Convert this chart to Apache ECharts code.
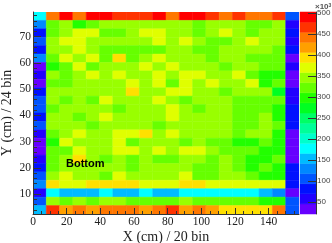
<!DOCTYPE html>
<html><head><meta charset="utf-8">
<style>html,body{margin:0;padding:0;background:#fff}#c{width:332px;height:243px}</style>
<script src="https://cdn.jsdelivr.net/npm/echarts@6/dist/echarts.min.js"></script>
</head><body><div id="c"></div>
<script>
const xMajorTicks=[0,20,40,60,80,100,120,140];
const xMinorTicks=[5,10,15,25,30,35,45,50,55,65,70,75,85,90,95,105,110,115,125,130,135,145,150,155];
const yMajorTicks=[10,20,30,40,50,60,70];
const yMinorTicks=[4,6,8,12,14,16,18,22,24,26,28,32,34,36,38,42,44,46,48,52,54,56,58,62,64,66,68,72,74,76,78];
const zTicks=[50,100,150,200,250,300,350,400,450,500];
const xRange=[0,158], yRange=[2.4,79.4], zRange=[22,502];
const xBins=20, yBins=24;
const palette=['#6600ff','#2200ff','#0011ff','#0055ff','#0088ff','#00bbff','#00ffff','#00ffcc','#00ff99','#00ff66','#00ff22','#22ff00','#66ff00','#99ff00','#e0ff00','#ffe000','#ffa000','#ff7700','#ff3300','#ff0000'];
// top row first
const cellValues=[
[178,442,490,442,490,490,466,466,466,490,442,490,490,466,442,466,442,442,466,106],
[130,322,346,298,322,346,346,346,346,346,346,346,322,346,346,346,322,322,346,58],
[82,322,346,370,370,322,322,346,370,370,346,346,322,346,370,346,322,346,346,82],
[106,346,370,370,346,346,346,346,346,370,346,370,346,322,322,346,370,346,346,58],
[82,346,346,370,346,322,322,322,322,322,346,346,322,322,346,346,346,346,322,82],
[130,322,370,346,370,322,394,322,346,370,346,346,346,322,346,346,322,322,322,34],
[34,298,322,370,322,346,346,346,370,346,370,346,346,346,322,346,346,322,322,58],
[58,346,322,346,370,346,370,346,346,370,346,370,370,346,346,370,322,298,298,34],
[34,322,322,346,346,346,346,370,346,370,322,370,346,370,346,346,370,298,322,34],
[82,346,346,346,346,346,346,394,346,346,370,370,346,346,322,346,346,346,274,58],
[106,346,322,346,322,370,346,346,346,370,346,322,346,346,346,322,322,322,322,58],
[106,322,346,346,346,346,322,346,346,346,370,346,322,346,346,322,322,322,298,82],
[82,346,346,322,346,370,346,346,346,346,370,346,346,346,346,322,322,346,298,82],
[106,346,346,346,322,346,346,346,346,322,346,346,346,346,346,322,322,346,322,82],
[58,322,346,370,346,346,370,370,394,346,370,346,346,346,346,322,346,346,298,34],
[34,298,370,346,346,346,370,322,346,346,346,322,346,322,322,298,298,322,298,34],
[34,322,322,370,346,346,370,370,346,370,346,370,370,346,322,322,322,298,298,34],
[58,322,346,394,346,322,346,322,346,322,322,346,346,322,346,322,298,298,322,34],
[82,322,346,346,346,346,346,322,346,346,346,346,322,322,346,322,298,322,298,82],
[106,346,370,346,346,322,370,346,346,346,346,370,322,322,346,346,322,298,298,82],
[130,394,370,370,394,394,394,394,370,370,370,394,394,370,370,370,370,370,370,82],
[58,178,154,154,154,178,154,154,178,154,154,178,178,178,178,178,178,154,130,34],
[106,346,322,346,322,346,346,322,322,322,322,346,322,322,322,322,322,298,298,106],
[154,466,418,442,418,442,442,442,418,442,466,418,442,418,394,394,394,394,442,106]
];
const colorbarValues=palette.map((_,i)=>zRange[0]+(i+0.5)*(zRange[1]-zRange[0])/palette.length);
const colorOf=v=>palette[Math.min(palette.length-1,Math.max(0,Math.floor((v-zRange[0])/(zRange[1]-zRange[0])*palette.length)))];
const dx=(xRange[1]-xRange[0])/xBins, dy=(yRange[1]-yRange[0])/yBins;
const cells=[];
cellValues.forEach((row,r)=>row.forEach((v,c)=>cells.push([c,yBins-1-r,v])));
const serif='"Liberation Serif"', sans='"Liberation Sans"';
const line={lineStyle:{color:'#333',width:1}};
const chart=echarts.init(document.getElementById('c'),null,{renderer:'canvas'});
chart.setOption({
 animation:false,
 grid:[{left:33,top:12,width:266,height:202,outerBoundsMode:'none'},{left:300,top:12,width:16,height:202,outerBoundsMode:'none'}],
 xAxis:[
  {gridIndex:0,type:'value',min:xRange[0],max:xRange[1],z:5,
   name:'X (cm) / 20 bin',nameLocation:'middle',nameGap:16,nameMoveOverlap:false,nameTextStyle:{fontFamily:serif,fontSize:14,color:'#222'},
   axisLine:{show:true,...line,onZero:false},splitLine:{show:false},
   axisTick:{show:true,inside:true,length:6,customValues:xMajorTicks,...line},
   axisLabel:{show:true,customValues:xMajorTicks,fontFamily:serif,fontSize:11.5,color:'#222',margin:2}},
  {gridIndex:0,type:'value',min:xRange[0],max:xRange[1],z:5,position:'bottom',
   axisLine:{show:false},splitLine:{show:false},
   axisTick:{show:true,inside:true,length:3,customValues:xMinorTicks,...line},axisLabel:{show:false}},
  {gridIndex:1,type:'value',min:0,max:1,show:false}
 ],
 yAxis:[
  {gridIndex:0,type:'value',min:yRange[0],max:yRange[1],z:5,
   name:'Y (cm) / 24 bin',nameLocation:'middle',nameGap:19,nameMoveOverlap:false,nameTextStyle:{fontFamily:serif,fontSize:14,color:'#222'},
   axisLine:{show:true,...line,onZero:false},splitLine:{show:false},
   axisTick:{show:true,inside:true,length:8,customValues:yMajorTicks,...line},
   axisLabel:{show:true,customValues:yMajorTicks,fontFamily:serif,fontSize:11.5,color:'#222',margin:2}},
  {gridIndex:0,type:'value',min:yRange[0],max:yRange[1],z:5,position:'left',
   axisLine:{show:false},splitLine:{show:false},
   axisTick:{show:true,inside:true,length:4,customValues:yMinorTicks,...line},axisLabel:{show:false}},
  {gridIndex:1,type:'value',min:zRange[0],max:zRange[1],z:5,position:'right',
   axisLine:{show:true,...line,onZero:false},splitLine:{show:false},
   axisTick:{show:true,inside:true,length:8,customValues:zTicks,...line},
   axisLabel:{show:true,customValues:zTicks,fontFamily:sans,fontSize:8,color:'#444',margin:1}}
 ],
 series:[
  {type:'custom',xAxisIndex:0,yAxisIndex:0,z:1,clip:true,silent:true,data:cells,
   encode:{x:0,y:1},
   renderItem:(p,api)=>{
    const c=api.value(0),r=api.value(1),v=api.value(2);
    const a=api.coord([xRange[0]+c*dx,yRange[0]+r*dy]),b=api.coord([xRange[0]+(c+1)*dx,yRange[0]+(r+1)*dy]);
    return {type:'rect',shape:{x:a[0],y:b[1],width:b[0]-a[0],height:a[1]-b[1]},style:{fill:colorOf(v),stroke:colorOf(v),lineWidth:0.5}};
   }},
  {type:'custom',xAxisIndex:2,yAxisIndex:2,z:1,silent:true,data:colorbarValues.map(v=>[0,v]),
   encode:{x:0,y:1},
   renderItem:(p,api)=>{
    const v=api.value(1),h=(zRange[1]-zRange[0])/palette.length;
    const a=api.coord([0,v-h/2]),b=api.coord([1,v+h/2]);
    return {type:'rect',shape:{x:a[0],y:b[1],width:b[0]-a[0],height:a[1]-b[1]},style:{fill:colorOf(v),stroke:colorOf(v),lineWidth:0.5}};
   }}
 ],
 title:[
  {text:'Bottom',left:66,top:158,padding:0,textStyle:{fontFamily:sans,fontSize:11,fontWeight:'bold',color:'#000'}},
  {text:'{a|×10}{b|3}',left:315,top:3,padding:0,textStyle:{rich:{a:{fontFamily:sans,fontSize:8,color:'#555'},b:{fontFamily:sans,fontSize:5,color:'#555',verticalAlign:'top',padding:[0,0,3,0]}}}}
 ]
});
</script></body></html>
